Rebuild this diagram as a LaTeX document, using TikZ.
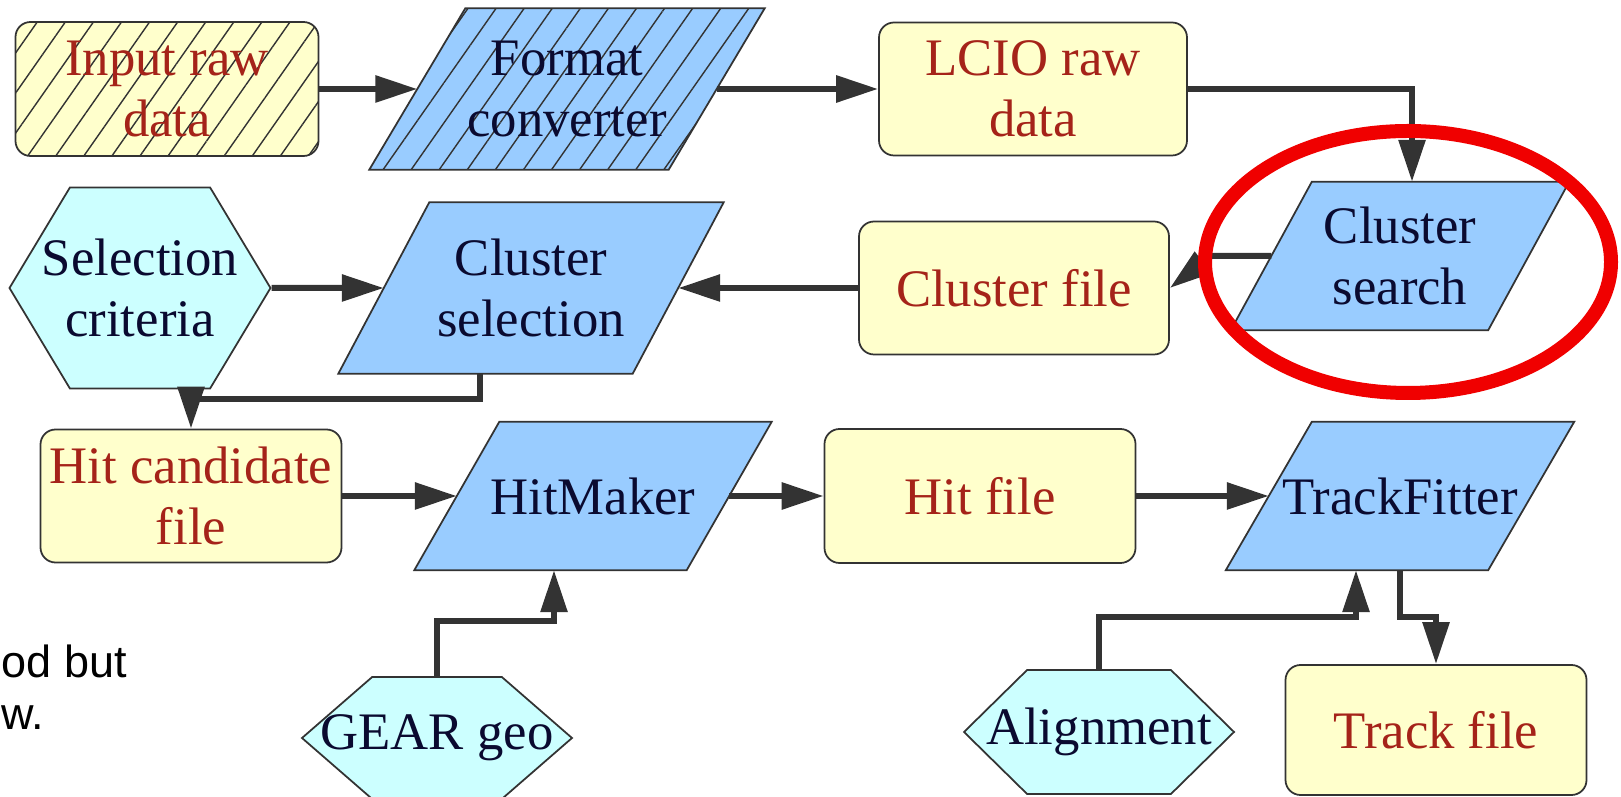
\documentclass[tikz,border=0pt]{standalone}
\usepackage{fontspec}
\setmainfont{Liberation Serif}
\newfontfamily\slidefont{Liberation Sans}
\usetikzlibrary{shapes.symbols,arrows.meta,patterns.meta,backgrounds}

\definecolor{filefill}{HTML}{FFFFCC}
\definecolor{procfill}{HTML}{99CCFF}
\definecolor{parmfill}{HTML}{CCFFFF}
\definecolor{filetext}{RGB}{165,35,25}
\definecolor{proctext}{HTML}{0A0A30}
\definecolor{edgegray}{HTML}{333333}
\definecolor{markred}{HTML}{F00000}

\tikzset{
  box/.style={draw=edgegray, line width=0.5pt, inner sep=0pt, align=center,
    font=\fontsize{15}{17.5}\selectfont},
  datafile/.style={box, rounded corners=1.5mm, fill=filefill, text=filetext},
  % processes are plain text nodes, their slanted outline goes on the background layer
  process/.style={inner sep=0pt, align=center, font=\fontsize{15}{17.5}\selectfont, text=proctext},
  procshape/.style={draw=edgegray, line width=0.5pt, fill=procfill},
  param/.style={box, signal, signal to=west and east, fill=parmfill, text=proctext,
    inner xsep=-8mm},
  hatched/.style={postaction={pattern={Lines[angle=55,distance=2.3mm,line width=0.4pt]},
    pattern color=black!80}},
  flow/.style={draw=edgegray, line width=0.6mm, -{Triangle[length=4.2mm,width=2.6mm]}},
}

\begin{document}
\begin{tikzpicture}[x=0.1mm, y=-0.1mm]
\useasboundingbox (0,0) rectangle (1621,797);

% first row: raw data in, converted to LCIO
\node[datafile, hatched, minimum width=30.3mm, minimum height=13.4mm] (inraw) at (167,89) {Input raw\\data};
\node[process, minimum width=29.8mm, minimum height=16mm] (fmt) at (567,89) {Format\\converter};
\node[datafile, minimum width=30.8mm, minimum height=13.3mm] (lcio) at (1033,89) {LCIO raw\\data};

% second row: clustering
\node[process, minimum width=25.6mm, minimum height=14.7mm] (search) at (1400,256) {Cluster\\search};
\node[datafile, minimum width=31mm, minimum height=13.3mm] (cfile) at (1014,288) {Cluster file};
\node[process, minimum width=29.3mm, minimum height=17mm] (csel) at (531,288) {Cluster\\selection};
\node[param, signal pointer angle=118, minimum width=26.1mm, minimum height=20.1mm] (selcrit) at (140,288) {Selection\\criteria};

% third row: hits and tracks
\node[datafile, minimum width=30.1mm, minimum height=13.3mm] (hitc) at (191,496) {Hit candidate\\file};
\node[process, minimum width=27.1mm, minimum height=14.7mm] (hitmk) at (593,496) {HitMaker};
\node[datafile, minimum width=31.1mm, minimum height=13.4mm] (hitf) at (980,496) {Hit file};
\node[process, minimum width=26.1mm, minimum height=14.7mm] (trkfit) at (1400,496) {TrackFitter};

% bottom row
\node[param, signal pointer angle=82, minimum width=27mm, minimum height=12.2mm] (gear) at (437,738) {GEAR geo};
\node[param, signal pointer angle=89, minimum width=27mm, minimum height=12.4mm] (align) at (1099,732) {Alignment};
\node[datafile, minimum width=30.1mm, minimum height=13mm] (trkf) at (1436,730) {Track file};

% slanted outlines of the processes (name/slant)
\begin{scope}[on background layer]
\foreach \n/\s in {search/81, csel/91, hitmk/85, trkfit/86}
  \draw[procshape] ([shift={(\s/2,0)}]\n.north west) -- ([shift={(\s/2,0)}]\n.north east)
    -- ([shift={(-\s/2,0)}]\n.south east) -- ([shift={(-\s/2,0)}]\n.south west) -- cycle;
\draw[procshape, hatched] ([shift={(48,0)}]fmt.north west) -- ([shift={(48,0)}]fmt.north east)
  -- ([shift={(-48,0)}]fmt.south east) -- ([shift={(-48,0)}]fmt.south west) -- cycle;
\end{scope}

% connectors
\draw[flow] (inraw) -- (fmt);
\draw[flow] (fmt) -- (lcio);
\draw[flow] (lcio.east) -| ([xshift=1.2mm]search.north);
\draw[flow] (search.west) -- ++(-60,0) -- (cfile.east);
\draw[flow] (cfile) -- (csel);
\draw[flow] (selcrit) -- (csel);
\draw[flow] ([xshift=-5.1mm]csel.south) -- ++(0,25) -| (hitc.north);
\draw[flow] (hitc) -- (hitmk);
\draw[flow] (hitmk) -- (hitf);
\draw[flow] (hitf) -- (trkfit);
\draw[flow] (gear.north) -- ++(0,-55) -| ([xshift=-3.9mm]hitmk.south);
\draw[flow] (align.north) -- ++(0,-52) -| ([xshift=-4.4mm]trkfit.south);
\draw[flow] (trkfit.south) -- ++(0,47) -| (trkf.north);

% highlight
\draw[markred, line width=1.4mm] ([shift={(8,6)}]search.center) ellipse [x radius=20.3mm, y radius=13.1mm];

% slide text at the left
\node[anchor=base west, inner sep=0pt, font=\slidefont\fontsize{12.8}{15}\selectfont] (note1) at (1,678) {od but};
\node[anchor=base west, inner sep=0pt, font=\slidefont\fontsize{12.8}{15}\selectfont] (note2) at (1,730) {w.};
\end{tikzpicture}
\end{document}
